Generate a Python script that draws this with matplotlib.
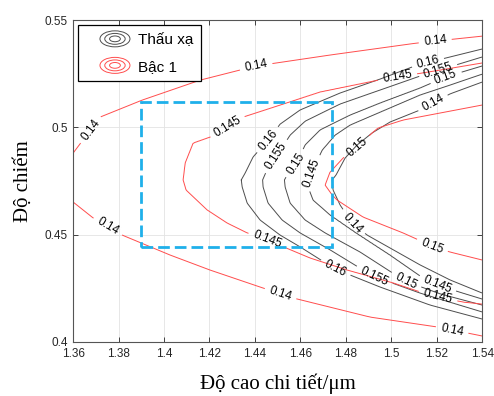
import numpy as np
import matplotlib
matplotlib.use("Agg")
import matplotlib.pyplot as plt
from matplotlib.patches import Ellipse, Rectangle
from matplotlib.lines import Line2D
from matplotlib.legend_handler import HandlerBase

plt.rcParams['font.family'] = ['Liberation Sans', 'DejaVu Sans']

# contour lines, (x, y) ordered by y
# "Thấu xạ" (black)
thau_xa_levels = [0.16, 0.155, 0.15, 0.145, 0.14]
thau_xa_016 = [(1.585, 0.397), (1.5400, 0.4107), (1.5171, 0.4172), (1.4951, 0.4256), (1.4753, 0.4340),
               (1.4599, 0.4443), (1.4511, 0.4498), (1.4423, 0.4568), (1.4366, 0.4647), (1.4344, 0.4722),
               (1.4340, 0.4755), (1.4357, 0.4787), (1.4392, 0.4862), (1.4458, 0.4941), (1.4511, 0.5015),
               (1.4599, 0.5081), (1.4775, 0.5160), (1.4951, 0.5225), (1.5114, 0.5290), (1.5400, 0.5365),
               (1.600, 0.553)]
thau_xa_0155 = [(1.600, 0.397), (1.5400, 0.4140), (1.5127, 0.4228), (1.4920, 0.4307), (1.4731, 0.4429),
                (1.4599, 0.4508), (1.4520, 0.4568), (1.4458, 0.4647), (1.4436, 0.4722), (1.4434, 0.4755),
                (1.4449, 0.4792), (1.4498, 0.4871), (1.4555, 0.4964), (1.4621, 0.5029), (1.4775, 0.5109),
                (1.4951, 0.5174), (1.5127, 0.5239), (1.5400, 0.5328), (1.615, 0.553)]
thau_xa_015 = [(1.615, 0.397), (1.5400, 0.4172), (1.5215, 0.4224), (1.5061, 0.4284), (1.4863, 0.4419),
               (1.4709, 0.4508), (1.4621, 0.4568), (1.4555, 0.4647), (1.4533, 0.4722), (1.4530, 0.4755),
               (1.4542, 0.4778), (1.4586, 0.4838), (1.4621, 0.4918), (1.4687, 0.4988), (1.4819, 0.5057),
               (1.4951, 0.5113), (1.5127, 0.5183), (1.5237, 0.5234), (1.5400, 0.5286), (1.630, 0.553)]
thau_xa_0145 = [(1.630, 0.397), (1.5400, 0.4200), (1.5171, 0.4275), (1.4995, 0.4405), (1.4841, 0.4512),
                (1.4731, 0.4592), (1.4656, 0.4661), (1.4634, 0.4722), (1.4630, 0.4755), (1.4643, 0.4778),
                (1.4665, 0.4825), (1.4696, 0.4894), (1.4753, 0.4964), (1.4819, 0.5011), (1.4951, 0.5071),
                (1.5127, 0.5151), (1.5259, 0.5197), (1.5400, 0.5248), (1.645, 0.553)]
thau_xa_014 = [(1.645, 0.397), (1.5400, 0.4228), (1.5259, 0.4289), (1.5127, 0.4359), (1.4894, 0.4498),
               (1.4828, 0.4554), (1.4775, 0.4638), (1.4744, 0.4708), (1.4740, 0.4755), (1.4757, 0.4778),
               (1.4797, 0.4857), (1.4850, 0.4918), (1.4916, 0.4974), (1.4995, 0.5025), (1.5127, 0.5081),
               (1.5184, 0.5113), (1.5259, 0.5156), (1.5400, 0.5211), (1.660, 0.553)]

# "Bậc 1" (red)
bac1_levels = [0.14, 0.145, 0.15]
bac1_014 = [(1.565, 0.397), (1.5400, 0.4028), (1.5202, 0.4070), (1.4907, 0.4116), (1.4568, 0.4205),
            (1.4423, 0.4256), (1.4203, 0.4335), (1.4027, 0.4405), (1.3816, 0.4498), (1.3688, 0.4578),
            (1.3600, 0.4652), (1.3555, 0.4765), (1.3600, 0.4880), (1.3719, 0.5048), (1.3904, 0.5127),
            (1.4159, 0.5220), (1.4405, 0.5286), (1.4731, 0.5337), (1.5114, 0.5393), (1.5400, 0.5425),
            (1.620, 0.553)]
bac1_0145 = [(1.640, 0.397), (1.5400, 0.4177), (1.5312, 0.4186), (1.5127, 0.4233), (1.5008, 0.4275),
             (1.4806, 0.4335), (1.4643, 0.4391), (1.4454, 0.4475), (1.4366, 0.4508), (1.4278, 0.4554),
             (1.4190, 0.4615), (1.4097, 0.4708), (1.4084, 0.4755), (1.4093, 0.4834), (1.4128, 0.4927),
             (1.4203, 0.4955), (1.4348, 0.5048), (1.4511, 0.5104), (1.4687, 0.5165), (1.4942, 0.5220),
             (1.5215, 0.5267), (1.5400, 0.5300), (1.670, 0.553)]
bac1_015 = [(1.700, 0.397), (1.5400, 0.4382), (1.5259, 0.4419), (1.5180, 0.4447), (1.5052, 0.4508),
            (1.4876, 0.4582), (1.4762, 0.4661), (1.4740, 0.4685), (1.4709, 0.4731), (1.4730, 0.4790),
            (1.4788, 0.4857), (1.4850, 0.4908), (1.4916, 0.4974), (1.4942, 0.4997), (1.5052, 0.5034),
            (1.5400, 0.5104), (1.760, 0.553)]

# label spots on the lines
thau_xa_label_pos = [(1.4458, 0.4941), (1.5162, 0.5300), (1.4753, 0.4340),
                     (1.4498, 0.4862), (1.5206, 0.5267), (1.4920, 0.4298),
                     (1.4586, 0.4825), (1.5237, 0.5244), (1.5061, 0.4275),
                     (1.4665, 0.4778), (1.5202, 0.4266),
                     (1.4828, 0.4554), (1.5184, 0.5113)]
bac1_label_pos = [(1.3666, 0.4997), (1.4405, 0.5286), (1.5193, 0.5407),
                  (1.3754, 0.4540), (1.4511, 0.4219), (1.5268, 0.4056),
                  (1.4278, 0.5006), (1.5030, 0.5220), (1.4454, 0.4475), (1.5206, 0.4214),
                  (1.4850, 0.4908), (1.5180, 0.4447)]

# dashed box corners
box_x = [1.390, 1.474]
box_y = [0.4442, 0.5118]


def field_from_lines(lines, levels, xg, yg):
    # levels are given in the order the lines sit from left to right
    Z = np.empty((len(yg), len(xg)))
    lv = np.array(levels)
    for i, y in enumerate(yg):
        xs = np.array([np.interp(y, [p[1] for p in ln], [p[0] for p in ln]) for ln in lines])
        # pad both ends so the field keeps going past the outer lines
        s0 = (lv[1] - lv[0]) / (xs[1] - xs[0])
        s1 = (lv[-1] - lv[-2]) / (xs[-1] - xs[-2])
        xx = np.concatenate([[xs[0] - 1], xs, [xs[-1] + 1]])
        ll = np.concatenate([[lv[0] - s0], lv, [lv[-1] + s1]])
        Z[i] = np.interp(xg, xx, ll)
    return Z


xg = np.linspace(1.36, 1.54, 361)
yg = np.linspace(0.40, 0.55, 301)
X, Y = np.meshgrid(xg, yg)
Z_black = field_from_lines([thau_xa_016, thau_xa_0155, thau_xa_015, thau_xa_0145, thau_xa_014],
                           thau_xa_levels, xg, yg)
Z_red = field_from_lines([bac1_014, bac1_0145, bac1_015], bac1_levels, xg, yg)

black_col = '#4d4d4d'
red_col = '#ff4d4d'

fig = plt.figure(figsize=(4.94, 3.96), dpi=100)
ax = fig.add_axes([0.148, 0.1364, 0.828, 0.813])

cs_b = ax.contour(X, Y, Z_black, levels=sorted(thau_xa_levels), colors=black_col, linewidths=0.7)
cs_r = ax.contour(X, Y, Z_red, levels=bac1_levels, colors=red_col, linewidths=0.7)
ax.clabel(cs_b, inline=True, fontsize=8.5, colors='k', fmt='%g', manual=thau_xa_label_pos)
ax.clabel(cs_r, inline=True, fontsize=8.5, colors='k', fmt='%g', manual=bac1_label_pos)

ax.add_patch(Rectangle((box_x[0], box_y[0]), box_x[1] - box_x[0], box_y[1] - box_y[0],
                       fill=False, edgecolor='#1fb0ea', lw=2.0, linestyle=(0, (4.2, 1.8)), zorder=5))

ax.set_xlim(1.36, 1.54)
ax.set_ylim(0.40, 0.55)
ax.set_xticks(np.arange(1.36, 1.5401, 0.02))
ax.set_xticklabels(['1.36', '1.38', '1.4', '1.42', '1.44', '1.46', '1.48', '1.5', '1.52', '1.54'])
ax.set_yticks([0.40, 0.45, 0.50, 0.55])
ax.set_yticklabels(['0.4', '0.45', '0.5', '0.55'])
ax.tick_params(direction='in', length=3.5, width=0.6, top=True, right=True,
               labelsize=8.5, colors='#262626', pad=4)
ax.grid(True, color='#e3e3e3', lw=0.6)
ax.set_axisbelow(True)
for sp in ax.spines.values():
    sp.set_color('#555555')
    sp.set_linewidth(0.8)

serif = ['Liberation Serif', 'DejaVu Serif']
ax.set_xlabel('Độ cao chi tiết/μm', family=serif, fontsize=15, labelpad=10)
ax.set_ylabel('Độ chiếm', family=serif, fontsize=15, labelpad=8)


class RingsHandler(HandlerBase):
    def create_artists(self, legend, orig_handle, xdescent, ydescent, width, height, fontsize, trans):
        c = orig_handle.get_color()
        ew = 30.0 * 72 / 100      # ellipse width in points
        eh = 16.0 * 72 / 100
        cx = width - ew / 2 - xdescent
        cy = height / 2 - ydescent
        out = []
        for s in (1.0, 0.68, 0.36):
            out.append(Ellipse((cx, cy), ew * s, eh * s, fill=False,
                               edgecolor=c, lw=0.7, transform=trans))
        return out


h1 = Line2D([], [], color=black_col)
h2 = Line2D([], [], color=red_col)
leg = ax.legend([h1, h2], ['Thấu xạ', 'Bậc 1'], handler_map={Line2D: RingsHandler()},
                loc='upper left', bbox_to_anchor=(0.012, 0.985), borderaxespad=0,
                fontsize=11, handlelength=2.9, handleheight=0.9, handletextpad=0.55,
                labelspacing=0.78, borderpad=0.5, fancybox=False, framealpha=1, edgecolor='k')
leg.get_frame().set_linewidth(0.9)

fig.savefig('out.png', dpi=100)
